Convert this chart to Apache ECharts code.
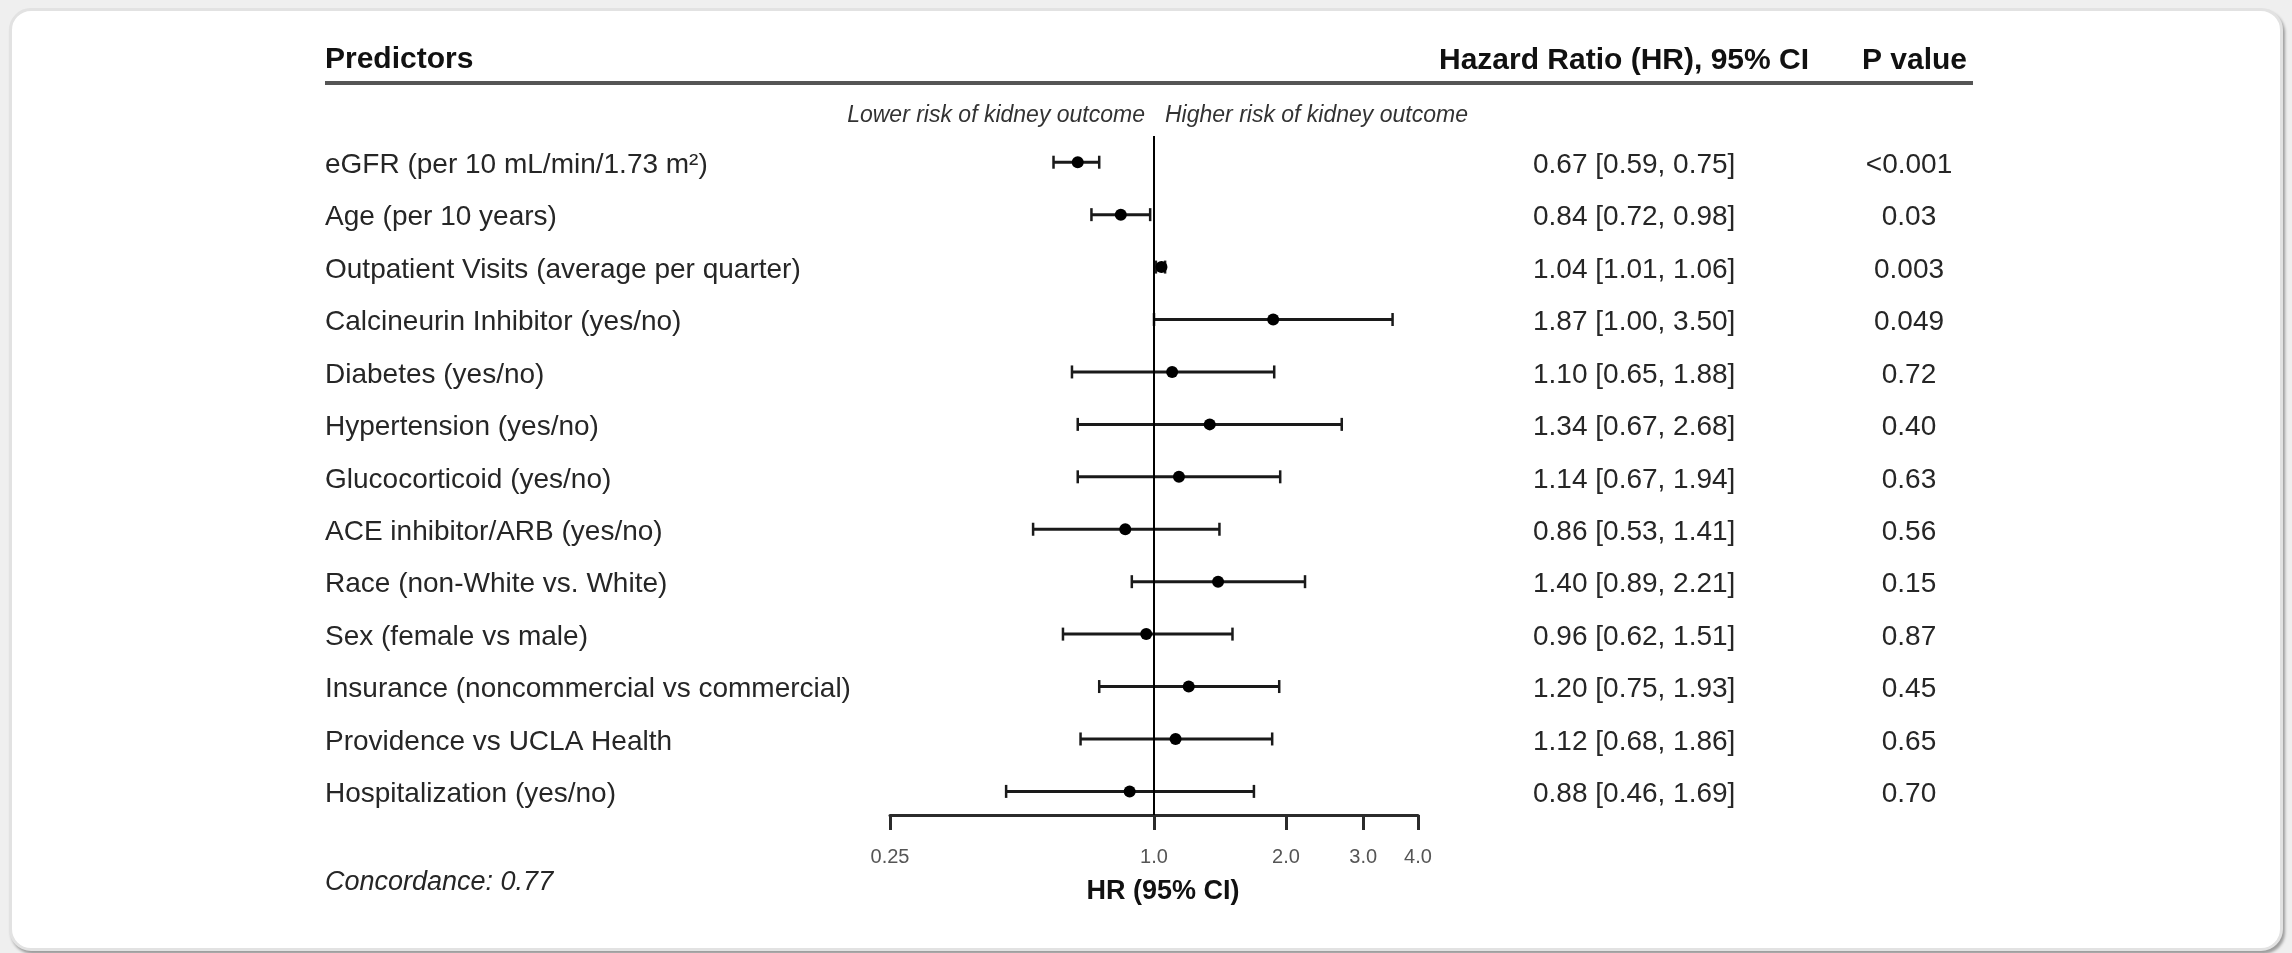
<!DOCTYPE html>
<html>
<head>
<meta charset="utf-8">
<script src="https://cdn.jsdelivr.net/npm/echarts@6/dist/echarts.min.js"></script>
<style>
  html, body { margin: 0; padding: 0; width: 2292px; height: 953px; background: #efefef; overflow: hidden; }
  #card { position: absolute; left: 9px; top: 8px; width: 2268px; height: 937px; background: #fff;
          border: 3px solid #e2e2e2; border-radius: 22px; box-shadow: 2px 3px 3px rgba(0,0,0,0.35); }
  #chart { position: absolute; left: 0; top: 0; width: 2292px; height: 953px; }
</style>
</head>
<body>
<div id="card"></div>
<div id="chart"></div>
<script>
const predictors = [
  'eGFR (per 10 mL/min/1.73 m\u00B2)',
  'Age (per 10 years)',
  'Outpatient Visits (average per quarter)',
  'Calcineurin Inhibitor (yes/no)',
  'Diabetes (yes/no)',
  'Hypertension (yes/no)',
  'Glucocorticoid (yes/no)',
  'ACE inhibitor/ARB (yes/no)',
  'Race (non-White vs. White)',
  'Sex (female vs male)',
  'Insurance (noncommercial vs commercial)',
  'Providence vs UCLA Health',
  'Hospitalization (yes/no)'
];
const hr     = [0.67, 0.84, 1.04, 1.87, 1.10, 1.34, 1.14, 0.86, 1.40, 0.96, 1.20, 1.12, 0.88];
const ciLow  = [0.59, 0.72, 1.01, 1.00, 0.65, 0.67, 0.67, 0.53, 0.89, 0.62, 0.75, 0.68, 0.46];
const ciHigh = [0.75, 0.98, 1.06, 3.50, 1.88, 2.68, 1.94, 1.41, 2.21, 1.51, 1.93, 1.86, 1.69];
const pValues = ['<0.001', '0.03', '0.003', '0.049', '0.72', '0.40', '0.63', '0.56', '0.15', '0.87', '0.45', '0.65', '0.70'];
const tickValues = [0.25, 1, 2, 3, 4];
const tickLabels = ['0.25', '1.0', '2.0', '3.0', '4.0'];
const headers = ['Predictors', 'Hazard Ratio (HR), 95% CI', 'P value'];
const riskLabels = ['Lower risk of kidney outcome', 'Higher risk of kidney outcome'];
const axisTitle = 'HR (95% CI)';
const concordance = 'Concordance: 0.77';

const FONT = '"Liberation Sans", Arial, Helvetica, sans-serif';
const TEXT = '#262626';

const chart = echarts.init(document.getElementById('chart'), null, { renderer: 'canvas' });

const markData = hr.map((v, i) => [i, v, ciLow[i], ciHigh[i]]);
const textData = predictors.map((_, i) => [1, i]);

const option = {
  backgroundColor: 'transparent',
  animation: false,
  grid: { left: 890, right: 874, top: 136, bottom: 138 },
  xAxis: {
    type: 'log', logBase: 2, min: 0.25, max: 4, position: 'bottom',
    splitLine: { show: false },
    axisLine: { show: true, onZero: false, lineStyle: { color: '#2b2b2b', width: 3 } },
    axisTick: { show: true, length: 15, customValues: tickValues, lineStyle: { color: '#2b2b2b', width: 3 } },
    axisLabel: {
      show: true, customValues: tickValues, margin: 32,
      formatter: (v) => { const k = tickValues.findIndex(t => Math.abs(t - v) < 1e-6); return k >= 0 ? tickLabels[k] : ''; },
      fontFamily: FONT, fontSize: 20, color: '#555'
    }
  },
  yAxis: {
    type: 'value', inverse: true, min: -0.5, max: 12.45,
    show: false, splitLine: { show: false }
  },
  graphic: [
    { type: 'text', x: 325, y: 60, style: { text: headers[0], font: 'bold 30px ' + FONT, fill: '#111', align: 'left', verticalAlign: 'middle' } },
    { type: 'text', x: 1439, y: 61, style: { text: headers[1], font: 'bold 30px ' + FONT, fill: '#111', align: 'left', verticalAlign: 'middle' } },
    { type: 'text', x: 1967, y: 61, style: { text: headers[2], font: 'bold 30px ' + FONT, fill: '#111', align: 'right', verticalAlign: 'middle' } },
    { type: 'line', shape: { x1: 325, y1: 83, x2: 1973, y2: 83 }, style: { stroke: '#555', lineWidth: 4 } },
    { type: 'text', x: 1145, y: 116, style: { text: riskLabels[0], font: 'italic 23px ' + FONT, fill: '#333', align: 'right', verticalAlign: 'middle' } },
    { type: 'text', x: 1165, y: 116, style: { text: riskLabels[1], font: 'italic 23px ' + FONT, fill: '#333', align: 'left', verticalAlign: 'middle' } },
    { type: 'text', x: 1163, y: 892, style: { text: axisTitle, font: 'bold 27px ' + FONT, fill: '#111', align: 'center', verticalAlign: 'middle' } },
    { type: 'text', x: 325, y: 882, style: { text: concordance, font: 'italic 27px ' + FONT, fill: TEXT, align: 'left', verticalAlign: 'middle' } }
  ],
  series: [
    {
      type: 'custom',
      name: 'ci',
      data: markData,
      encode: { x: [1, 2, 3], y: 0 },
      renderItem: function (params, api) {
        const y = api.value(0);
        const p = api.coord([api.value(1), y]);
        const l = api.coord([api.value(2), y]);
        const h = api.coord([api.value(3), y]);
        const cy = p[1];
        const stroke = '#1a1a1a';
        return {
          type: 'group',
          children: [
            { type: 'line', shape: { x1: l[0], y1: cy, x2: h[0], y2: cy }, style: { stroke, lineWidth: 3 } },
            { type: 'line', shape: { x1: l[0], y1: cy - 6.5, x2: l[0], y2: cy + 6.5 }, style: { stroke, lineWidth: 2.5 } },
            { type: 'line', shape: { x1: h[0], y1: cy - 6.5, x2: h[0], y2: cy + 6.5 }, style: { stroke, lineWidth: 2.5 } },
            { type: 'circle', shape: { cx: p[0], cy: cy, r: 6 }, style: { fill: '#000' } }
          ]
        };
      },
      markLine: {
        silent: true, symbol: 'none', label: { show: false },
        lineStyle: { color: '#000', width: 2, type: 'solid' },
        data: [{ xAxis: 1 }]
      },
      z: 3
    },
    {
      type: 'custom',
      name: 'text',
      data: textData,
      encode: { x: 0, y: 1 },
      clip: false,
      renderItem: function (params, api) {
        const i = api.value(1);
        const cy = api.coord([1, i])[1] + 3;
        const hrText = hr[i].toFixed(2) + ' [' + ciLow[i].toFixed(2) + ', ' + ciHigh[i].toFixed(2) + ']';
        return {
          type: 'group',
          children: [
            { type: 'text', x: 325, y: cy, style: { text: predictors[i], font: '28px ' + FONT, fill: TEXT, align: 'left', verticalAlign: 'middle' } },
            { type: 'text', x: 1533, y: cy, style: { text: hrText, font: '28px ' + FONT, fill: TEXT, align: 'left', verticalAlign: 'middle' } },
            { type: 'text', x: 1909, y: cy, style: { text: pValues[i], font: '28px ' + FONT, fill: TEXT, align: 'center', verticalAlign: 'middle' } }
          ]
        };
      }
    }
  ]
};
chart.setOption(option);
</script>
</body>
</html>
